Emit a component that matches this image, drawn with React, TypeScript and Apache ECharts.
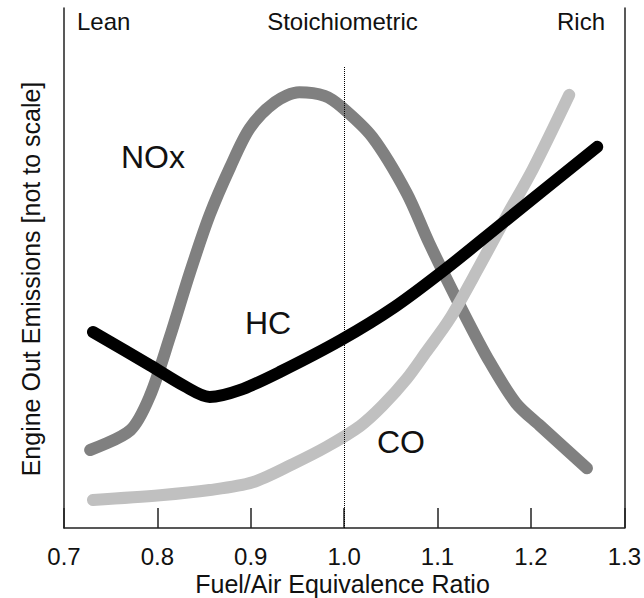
import React, { useEffect, useRef } from "react";
import * as echarts from "echarts";

// Fuel/Air equivalence ratio (x) vs. relative emission level (y, arbitrary 0-100)
const noxX = [0.728, 0.771, 0.792, 0.813, 0.835, 0.856, 0.878, 0.899, 0.926, 0.952, 0.979, 0.997, 1.030, 1.067, 1.091, 1.127, 1.156, 1.184, 1.209, 1.260];
const noxY = [15.0, 18.8, 25.4, 36.5, 49.2, 60.2, 69.4, 76.9, 81.9, 83.8, 83.1, 81.0, 75.2, 64.4, 54.8, 41.7, 31.9, 24.0, 19.8, 11.5];

const hcX = [0.731, 0.792, 0.829, 0.856, 0.888, 0.931, 0.997, 1.054, 1.110, 1.166, 1.271];
const hcY = [37.7, 31.3, 27.3, 25.2, 26.5, 30.0, 36.2, 42.5, 50.0, 58.1, 73.3];

const coX = [0.731, 0.803, 0.856, 0.902, 0.945, 0.981, 1.017, 1.041, 1.067, 1.088, 1.113, 1.145, 1.174, 1.202, 1.241];
const coY = [5.4, 6.3, 7.3, 8.8, 12.3, 15.6, 19.6, 23.5, 28.7, 33.9, 40.2, 50.4, 60.0, 69.0, 83.3];

const xTicks = [0.7, 0.8, 0.9, 1.0, 1.1, 1.2, 1.3];
const stoichX = 1.0;
const stoichTop = 88.8;

const FONT = "'Liberation Sans', Arial, sans-serif";

const zip = (xs: number[], ys: number[]) => xs.map((x, i) => [x, ys[i]]);

export default function App() {
  const ref = useRef<HTMLDivElement>(null);
  useEffect(() => {
    if (!ref.current) return;
    const chart = echarts.init(ref.current, undefined, { renderer: "svg" });
    const lineBase = (color: string) => ({
      type: "line" as const,
      symbol: "none",
      smooth: 0.3,
      lineStyle: { color, width: 12, cap: "round", join: "round" },
      silent: true,
    });
    chart.setOption({
      animation: false,
      backgroundColor: "#ffffff",
      grid: { left: 64, right: 19, top: 8, bottom: 70, containLabel: false },
      xAxis: {
        type: "value",
        min: xTicks[0],
        max: xTicks[xTicks.length - 1],
        interval: 0.1,
        axisLine: { show: true, onZero: false, lineStyle: { color: "#222", width: 1.5 } },
        axisTick: { show: true, inside: true, length: 20, lineStyle: { color: "#222", width: 1.5 } },
        axisLabel: {
          fontFamily: FONT,
          fontSize: 24,
          color: "#111",
          margin: 16,
          formatter: (v: number) => v.toFixed(1),
        },
        splitLine: { show: false },
      },
      yAxis: [
        {
          type: "value",
          min: 0,
          max: 100,
          position: "left",
          axisLine: { show: true, lineStyle: { color: "#222", width: 1.5 } },
          axisTick: { show: false },
          axisLabel: { show: false },
          splitLine: { show: false },
        },
        {
          type: "value",
          min: 0,
          max: 100,
          position: "right",
          axisLine: { show: true, lineStyle: { color: "#222", width: 1.5 } },
          axisTick: { show: false },
          axisLabel: { show: false },
          splitLine: { show: false },
        },
      ],
      series: [
        {
          ...lineBase("#808080"),
          name: "NOx",
          data: zip(noxX, noxY),
          markLine: {
            silent: true,
            symbol: "none",
            label: { show: false },
            lineStyle: { color: "#000", type: "dotted", width: 1 },
            data: [[{ coord: [stoichX, 0] }, { coord: [stoichX, stoichTop] }]],
          },
        },
        { ...lineBase("#c0c0c0"), name: "CO", data: zip(coX, coY) },
        { ...lineBase("#000000"), name: "HC", data: zip(hcX, hcY) },
      ],
      graphic: [
        { type: "text", x: 342.5, y: 584, style: { text: "Fuel/Air Equivalence Ratio", font: `25px ${FONT}`, fill: "#111", align: "center", verticalAlign: "middle" } },
        { type: "text", x: 31, y: 279, rotation: Math.PI / 2, style: { text: "Engine Out Emissions [not to scale]", font: `25px ${FONT}`, fill: "#111", align: "center", verticalAlign: "middle" } },
        { type: "text", x: 77, y: 21.5, style: { text: "Lean", font: `24px ${FONT}`, fill: "#111", align: "left", verticalAlign: "middle" } },
        { type: "text", x: 342.5, y: 21.5, style: { text: "Stoichiometric", font: `24px ${FONT}`, fill: "#111", align: "center", verticalAlign: "middle" } },
        { type: "text", x: 605, y: 21.5, style: { text: "Rich", font: `24px ${FONT}`, fill: "#111", align: "right", verticalAlign: "middle" } },
        { type: "text", x: 121, y: 157, style: { text: "NOx", font: `32px ${FONT}`, fill: "#111", align: "left", verticalAlign: "middle" } },
        { type: "text", x: 245, y: 323, style: { text: "HC", font: `32px ${FONT}`, fill: "#111", align: "left", verticalAlign: "middle" } },
        { type: "text", x: 377, y: 442, style: { text: "CO", font: `32px ${FONT}`, fill: "#111", align: "left", verticalAlign: "middle" } },
      ],
    });
    return () => chart.dispose();
  }, []);
  return <div ref={ref} style={{ position: "absolute", left: 0, top: 0, width: 644, height: 598 }} />;
}
